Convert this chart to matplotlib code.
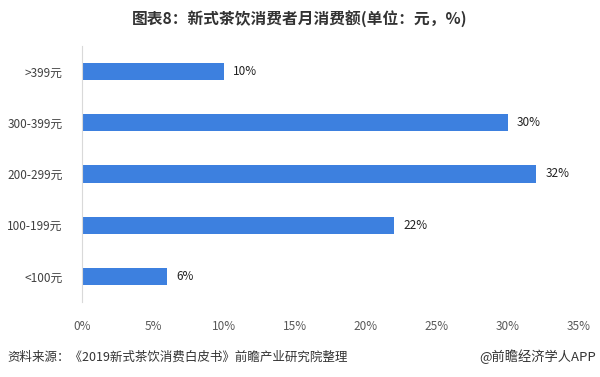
import matplotlib.pyplot as plt
from matplotlib.ticker import FuncFormatter

plt.rcParams['font.family'] = ['Noto Sans CJK SC', 'DejaVu Sans']

# 数据
categories = ['>399元', '300-399元', '200-299元', '100-199元', '<100元']
values = [10, 30, 32, 22, 6]
xticks = [0, 5, 10, 15, 20, 25, 30, 35]

fig = plt.figure(figsize=(6, 3.77), dpi=100)
ax = fig.add_axes([0.1367, 0.199, 0.8283, 0.679])

bars = ax.barh(categories, values, height=0.335, color='#3d80df')
ax.set_ylim(4.5, -0.5)
ax.set_xlim(0, 35)
ax.set_xticks(xticks)
ax.xaxis.set_major_formatter(FuncFormatter(lambda v, p: f'{v:.0f}%'))

for bar, v in zip(bars, values):
    ax.text(bar.get_width() + 0.63, bar.get_y() + bar.get_height() / 2, f'{v}%',
            va='center', ha='left', fontsize=8.5, color='#222222')

for side in ['top', 'right', 'bottom']:
    ax.spines[side].set_visible(False)
ax.spines['left'].set_color('#d9d9d9')
ax.tick_params(axis='x', length=0, pad=13, labelsize=8.5, labelcolor='#595959')
ax.tick_params(axis='y', length=0, pad=14, labelsize=8.5, labelcolor='#404040')

fig.text(0.5, 0.947, '图表8：新式茶饮消费者月消费额(单位：元，%)', ha='center', va='center',
         fontsize=11.3, fontweight='bold', color='#333333')
fig.text(0.013, 0.053, '资料来源：《2019新式茶饮消费白皮书》前瞻产业研究院整理', ha='left', va='center',
         fontsize=9, color='#333333')
fig.text(0.994, 0.053, '@前瞻经济学人APP', ha='right', va='center',
         fontsize=9.5, color='#333333')

plt.savefig('out.png', dpi=100)
